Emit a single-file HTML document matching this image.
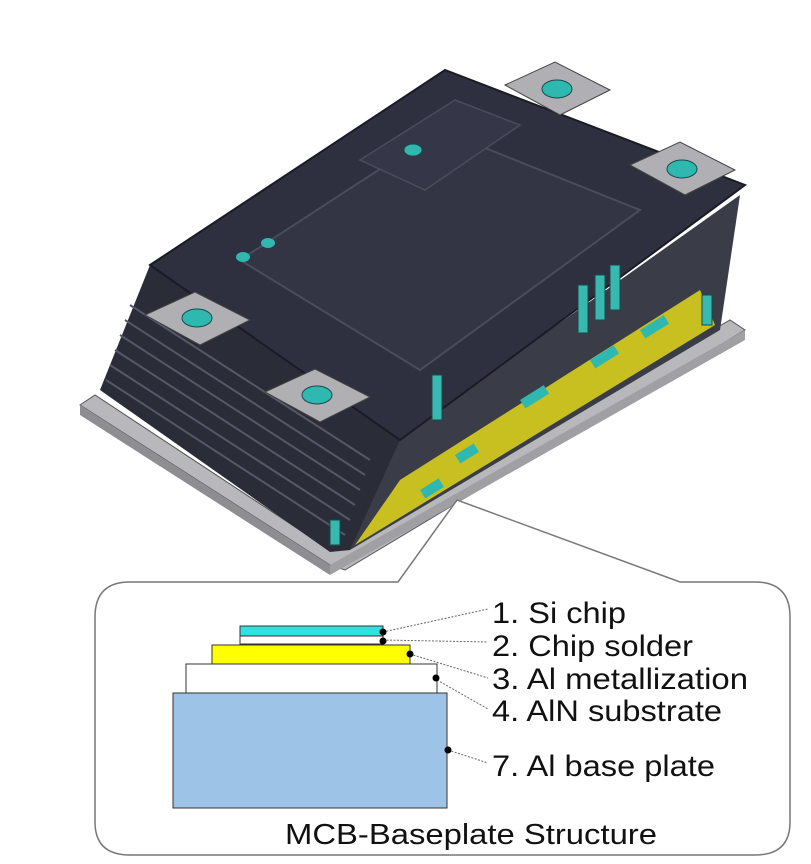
<!DOCTYPE html>
<html><head><meta charset="utf-8"><style>
html,body{margin:0;padding:0;background:#fff;}
svg{display:block;}
text{font-family:"Liberation Sans",Arial,sans-serif;fill:#111;}
</style></head><body>
<svg width="811" height="864" viewBox="0 0 811 864" xmlns="http://www.w3.org/2000/svg">
<polygon points="80,405 330,565 345,570 745,330 730,320 330,550 95,395" fill="#b8b8bc" stroke="#555" stroke-width="1"/>
<polygon points="80,405 330,565 330,575 80,415" fill="#8e8e92"/>
<polygon points="330,565 745,330 745,340 330,575" fill="#a0a0a4"/>
<polygon points="395,440 740,195 720,330 350,550" fill="#3a3c48"/>
<polygon points="400,480 700,290 715,325 355,545" fill="#c8c020"/>
<g fill="#2fb8b0">
<rect x="455" y="455" width="22" height="10" transform="rotate(-32 455 455)"/>
<rect x="520" y="400" width="28" height="10" transform="rotate(-32 520 400)"/>
<rect x="590" y="360" width="28" height="10" transform="rotate(-32 590 360)"/>
<rect x="640" y="330" width="28" height="10" transform="rotate(-32 640 330)"/>
<rect x="420" y="490" width="22" height="10" transform="rotate(-32 420 490)"/>
</g>
<polygon points="100,390 150,265 400,440 350,550 330,552" fill="#2a2c38"/>
<g stroke="#555868" stroke-width="2">
<line x1="110" y1="365" x2="350" y2="520"/><line x1="115" y1="350" x2="355" y2="505"/>
<line x1="120" y1="335" x2="360" y2="490"/><line x1="125" y1="320" x2="365" y2="475"/>
<line x1="130" y1="305" x2="370" y2="460"/><line x1="106" y1="380" x2="345" y2="535"/>
</g>
<polygon points="150,265 445,70 745,185 400,440" fill="#2e3040" stroke="#1a1b24" stroke-width="2"/>
<polygon points="240,260 440,130 640,210 420,370" fill="#333545" stroke="#4a4c5c" stroke-width="2"/>
<polygon points="360,160 455,100 520,125 425,190" fill="#353748" stroke="#4a4c5c" stroke-width="1.5"/>
<g fill="#38b8b0" stroke="#1a4a4a">
<rect x="578" y="285" width="10" height="48"/><rect x="595" y="275" width="10" height="45"/><rect x="610" y="265" width="10" height="45"/>
<rect x="432" y="375" width="10" height="45"/><rect x="330" y="520" width="10" height="25"/><rect x="702" y="295" width="10" height="30"/>
</g>
<g>
<polygon points="505,85 555,62 610,90 560,115" fill="#b0b0b4" stroke="#444"/>
<ellipse cx="557" cy="89" rx="15" ry="9" fill="#2fb8b0" stroke="#1a4a4a"/>
<polygon points="630,165 680,142 735,170 685,195" fill="#b0b0b4" stroke="#444"/>
<ellipse cx="682" cy="169" rx="15" ry="9" fill="#2fb8b0" stroke="#1a4a4a"/>
<polygon points="145,315 195,292 250,320 200,345" fill="#b0b0b4" stroke="#444"/>
<ellipse cx="197" cy="318" rx="15" ry="9" fill="#2fb8b0" stroke="#1a4a4a"/>
<polygon points="265,392 315,369 370,397 320,422" fill="#b0b0b4" stroke="#444"/>
<ellipse cx="317" cy="395" rx="15" ry="9" fill="#2fb8b0" stroke="#1a4a4a"/>
<ellipse cx="413" cy="150" rx="9" ry="6" fill="#2fb8b0" stroke="#1a4a4a"/>
<ellipse cx="243" cy="257" rx="7" ry="5" fill="#2fb8b0"/>
<ellipse cx="268" cy="243" rx="7" ry="5" fill="#2fb8b0"/>
</g>
<path d="M130,582 L398,582 L457,500 L680,582 L755,582 Q790,582 790,617 L790,822 Q790,855 755,855 L130,855 Q95,855 95,822 L95,617 Q95,582 130,582 Z" fill="#fff" stroke="#777" stroke-width="1.5"/>
<rect x="173" y="693" width="274" height="115" fill="#9dc3e6" stroke="#333" stroke-width="1"/>
<rect x="186" y="664" width="251" height="29" fill="#fff" stroke="#333" stroke-width="1"/>
<rect x="212" y="645" width="198" height="19" fill="#ffff00" stroke="#333" stroke-width="1"/>
<rect x="240" y="636" width="143" height="8" fill="#fff" stroke="#333" stroke-width="1"/>
<rect x="240" y="626" width="143" height="10" fill="#33e0e0" stroke="#333" stroke-width="1"/>
<g stroke="#666" stroke-width="1" stroke-dasharray="2,1.5">
<line x1="383" y1="632" x2="488" y2="609"/><line x1="383" y1="640" x2="488" y2="642"/>
<line x1="410" y1="654" x2="488" y2="678"/><line x1="437" y1="680" x2="488" y2="709"/>
<line x1="448" y1="750" x2="488" y2="763"/>
</g>
<g fill="#000"><circle cx="383" cy="632" r="3.5"/><circle cx="383" cy="641" r="3.5"/><circle cx="410" cy="654" r="3.5"/><circle cx="436" cy="678" r="3.5"/><circle cx="448" cy="750" r="3.5"/></g>
<g font-size="30">
<text x="492" y="623" textLength="134" lengthAdjust="spacingAndGlyphs">1. Si chip</text>
<text x="492" y="656" textLength="201" lengthAdjust="spacingAndGlyphs">2. Chip solder</text>
<text x="492" y="689" textLength="256" lengthAdjust="spacingAndGlyphs">3. Al metallization</text>
<text x="492" y="721" textLength="230" lengthAdjust="spacingAndGlyphs">4. AlN substrate</text>
<text x="492" y="776" textLength="223" lengthAdjust="spacingAndGlyphs">7. Al base plate</text>
</g>
<text x="285" y="844" font-size="29" textLength="372" lengthAdjust="spacingAndGlyphs">MCB-Baseplate Structure</text>
</svg>
</body></html>
